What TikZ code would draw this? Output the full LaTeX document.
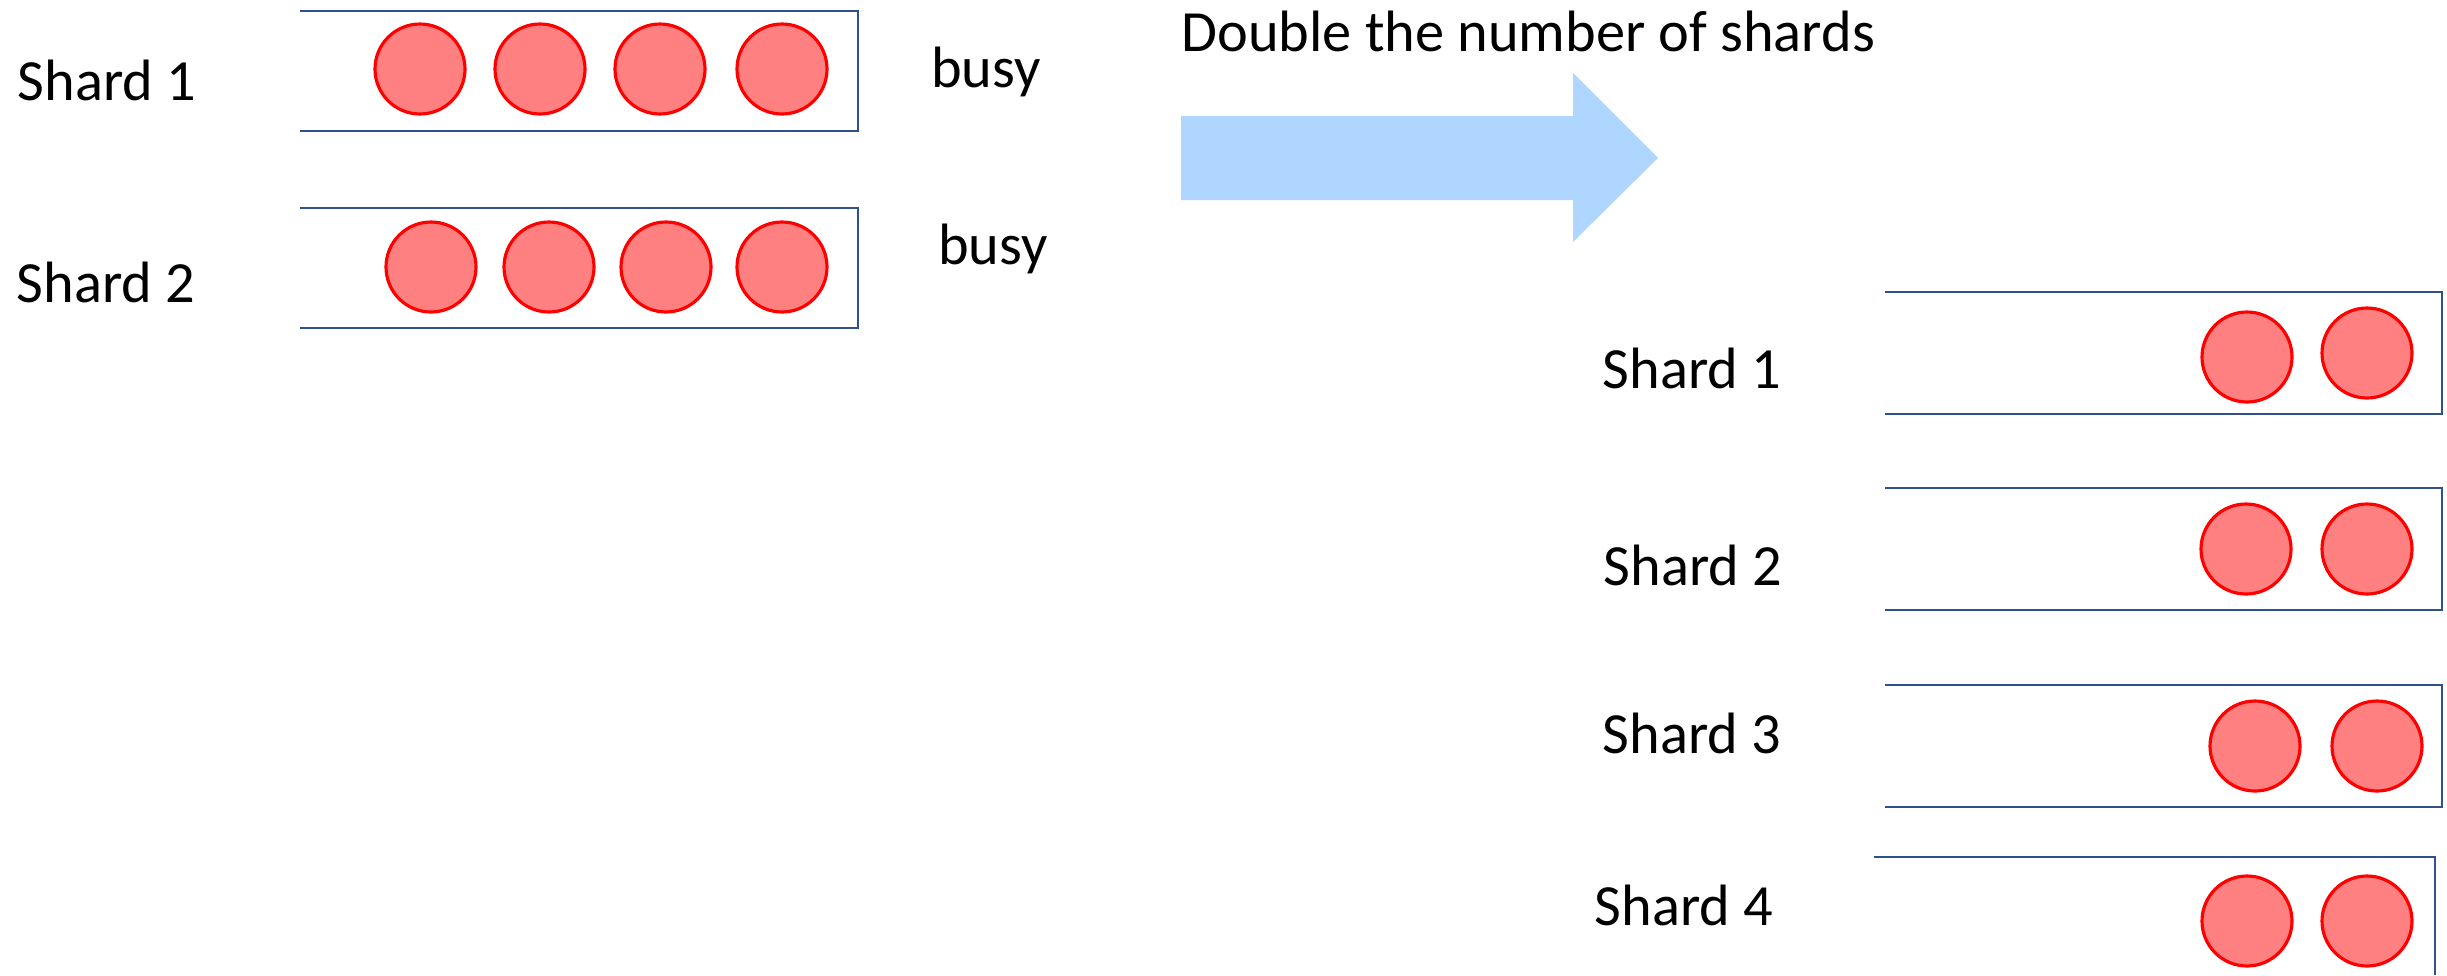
\documentclass[tikz,border=0pt]{standalone}
\usepackage{fontspec}
\setmainfont{Carlito}
\definecolor{boxline}{RGB}{47,82,143}
\definecolor{jobfill}{RGB}{255,128,128}
\definecolor{arrowblue}{RGB}{174,214,255}
\tikzset{
    shardbox/.style={draw=boxline,line width=0.6pt},
    job/.style={circle,draw=red,line width=0.9pt,fill=jobfill,minimum size=0.9cm,inner sep=0pt},
    lbl/.style={font=\fontsize{16.6}{19}\selectfont,inner sep=0pt}
}
\begin{document}
\begin{tikzpicture}
            \useasboundingbox (0,0) rectangle (24.47,-9.75);
            % before: two busy shards
            \draw[shardbox] (3.00,-0.11) -- (8.58,-0.11) -- (8.58,-1.31) -- (3.00,-1.31);
            \draw[shardbox] (3.00,-2.08) -- (8.58,-2.08) -- (8.58,-3.28) -- (3.00,-3.28);
            \node[lbl] (s1) at (1.07,-0.80) {Shard 1};
            \node[lbl] (s2) at (1.06,-2.82) {Shard 2};
            \node[lbl] (busy1) at (9.86,-0.72) {busy};
            \node[lbl] (busy2) at (9.93,-2.49) {busy};
            \foreach \x [count=\i] in {4.20,5.40,6.60,7.82} {
                \node[job] (a\i) at (\x,-0.69) {};
            }
            \foreach \x [count=\i] in {4.31,5.49,6.66,7.82} {
                \node[job] (b\i) at (\x,-2.67) {};
            }
            % the big arrow
            \fill[arrowblue] (11.81,-1.16) -- (15.73,-1.16) -- (15.73,-0.73) -- (16.58,-1.58)
                -- (15.73,-2.42) -- (15.73,-2.00) -- (11.81,-2.00) -- cycle;
            \node[lbl,anchor=west] (double) at (11.81,-0.31) {Double the number of shards};
            % after: four shards
            \draw[shardbox] (18.85,-2.92) -- (24.42,-2.92) -- (24.42,-4.14) -- (18.85,-4.14);
            \draw[shardbox] (18.85,-4.88) -- (24.42,-4.88) -- (24.42,-6.10) -- (18.85,-6.10);
            \draw[shardbox] (18.85,-6.85) -- (24.42,-6.85) -- (24.42,-8.07) -- (18.85,-8.07);
            \draw[shardbox] (18.74,-8.57) -- (24.35,-8.57) -- (24.35,-9.75);
            \node[lbl] (n1) at (16.92,-3.68) {Shard 1};
            \node[lbl] (n2) at (16.93,-5.65) {Shard 2};
            \node[lbl] (n3) at (16.92,-7.33) {Shard 3};
            \node[lbl] (n4) at (16.84,-9.05) {Shard 4};
            \node[job] (c1) at (22.47,-3.57) {};
            \node[job] (c2) at (23.67,-3.53) {};
            \node[job] (d1) at (22.46,-5.49) {};
            \node[job] (d2) at (23.67,-5.49) {};
            \node[job] (e1) at (22.55,-7.46) {};
            \node[job] (e2) at (23.77,-7.46) {};
            \node[job] (f1) at (22.47,-9.21) {};
            \node[job] (f2) at (23.67,-9.21) {};
        \end{tikzpicture}
\end{document}
